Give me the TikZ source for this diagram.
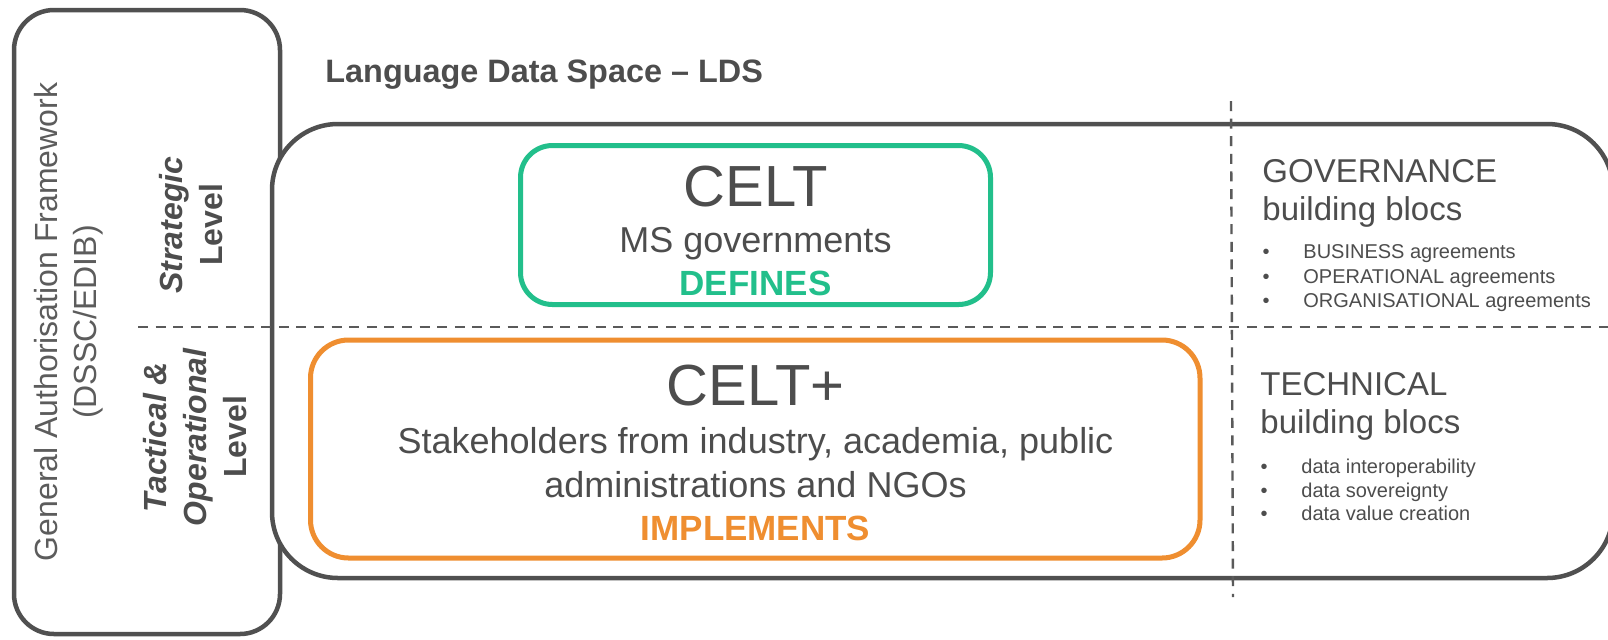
\documentclass[tikz,border=0pt]{standalone}
\usepackage{fontspec}
\setmainfont{Liberation Sans}
\definecolor{framegray}{HTML}{505050}
\definecolor{dashgray}{HTML}{5A5A5A}
\definecolor{textgray}{HTML}{4D4D4D}
\definecolor{softgray}{HTML}{5C5C5C}
\definecolor{celtgreen}{HTML}{22BF8B}
\definecolor{celtorange}{HTML}{EF8E30}
\begin{document}
\begin{tikzpicture}[x=0.5pt,y=-0.5pt,
  boxframe/.style={draw=framegray, line width=2.25pt, rounded corners=#1, inner sep=0pt},
  celtbox/.style={draw=#1, line width=2.5pt, inner sep=0pt, fill=white},
  divider/.style={draw=dashgray, line width=1.2pt, dash pattern=on 5pt off 3.8pt},
  txt/.style={inner sep=0pt, text=textgray},
  bigname/.style={txt, anchor=base, font=\fontsize{29}{29}\selectfont},
  body/.style={txt, anchor=base, font=\fontsize{18}{18}\selectfont},
  verb/.style={inner sep=0pt, anchor=base, text=#1, font=\bfseries\fontsize{17.5}{17.5}\selectfont},
  head/.style={txt, anchor=base west, font=\fontsize{16.5}{16.5}\selectfont},
  bulletdot/.style={txt, anchor=base, font=\fontsize{10}{10}\selectfont},
  bullettext/.style={txt, anchor=base west, font=\fontsize{10}{10}\selectfont},
  levellabel/.style={txt, rotate=90, align=center, font=\bfseries\fontsize{16}{20}\selectfont},
]
\useasboundingbox (0,0) rectangle (1608,639);
\clip (0,0) rectangle (1608,639);

% general authorisation framework frame
\node[boxframe=20pt, minimum width=133pt, minimum height=312pt] (gaf) at (147,322) {};

% language data space frame, laid over the framework frame
\node[boxframe=33pt, fill=white, minimum width=670.5pt, minimum height=227pt] (lds) at (942.5,351) {};

% strategic and operational bodies
\node[celtbox=celtgreen, rounded corners=16pt, minimum width=235pt, minimum height=79.5pt] (celt) at (755.5,225) {};
\node[celtbox=celtorange, rounded corners=19pt, minimum width=444.75pt, minimum height=109pt] (celtplus) at (755.25,449) {};

% level and building-bloc dividers
\coordinate (hdivA) at (138,327);
\coordinate (hdivB) at (1608,327);
\coordinate (vdivA) at (1231,101);
\coordinate (vdivB) at (1233,597);
\draw[divider] (hdivA) -- (hdivB);
\draw[divider] (vdivA) -- (vdivB);

% title
\node[txt, anchor=base west, font=\bfseries\fontsize{16.2}{16.2}\selectfont] (title) at (325,82) {Language Data Space – LDS};

% framework label and level labels
\node[txt, text=softgray, rotate=90, align=center, font=\fontsize{16}{19.5}\selectfont] (gaflabel) at (69,322)
  {General Authorisation Framework\\(DSSC/EDIB)};
\node[levellabel] (strategic) at (191,225) {\textit{Strategic}\\Level};
\node[levellabel] (tactical) at (195,437) {\textit{Tactical \&}\\\textit{Operational}\\Level};

% CELT
\node[bigname] (celtname) at (755.5,206) {CELT};
\node[body] (celtwho) at (755.5,252) {MS governments};
\node[verb=celtgreen] (celtverb) at (755.5,295) {DEFINES};

% CELT+
\node[bigname] (celtplusname) at (755.5,405) {CELT+};
\node[body] (celtpluswhoA) at (755.5,453) {Stakeholders from industry, academia, public};
\node[body] (celtpluswhoB) at (755.5,497) {administrations and NGOs};
\node[verb=celtorange] (celtplusverb) at (755.5,540) {IMPLEMENTS};

% governance building blocs
\node[head] (govA) at (1262,182) {GOVERNANCE};
\node[head] (govB) at (1262,220) {building blocs};
\node[bulletdot] (govdot1) at (1266,258) {•};
\node[bullettext] (gov1) at (1303,258) {BUSINESS agreements};
\node[bulletdot] (govdot2) at (1266,283) {•};
\node[bullettext] (gov2) at (1303,283) {OPERATIONAL agreements};
\node[bulletdot] (govdot3) at (1266,307) {•};
\node[bullettext] (gov3) at (1303,307) {ORGANISATIONAL agreements};

% technical building blocs
\node[head] (techA) at (1260,395) {TECHNICAL};
\node[head] (techB) at (1260,433) {building blocs};
\node[bulletdot] (techdot1) at (1264,473) {•};
\node[bullettext] (tech1) at (1301,473) {data interoperability};
\node[bulletdot] (techdot2) at (1264,497) {•};
\node[bullettext] (tech2) at (1301,497) {data sovereignty};
\node[bulletdot] (techdot3) at (1264,520) {•};
\node[bullettext] (tech3) at (1301,520) {data value creation};
\end{tikzpicture}
\end{document}
